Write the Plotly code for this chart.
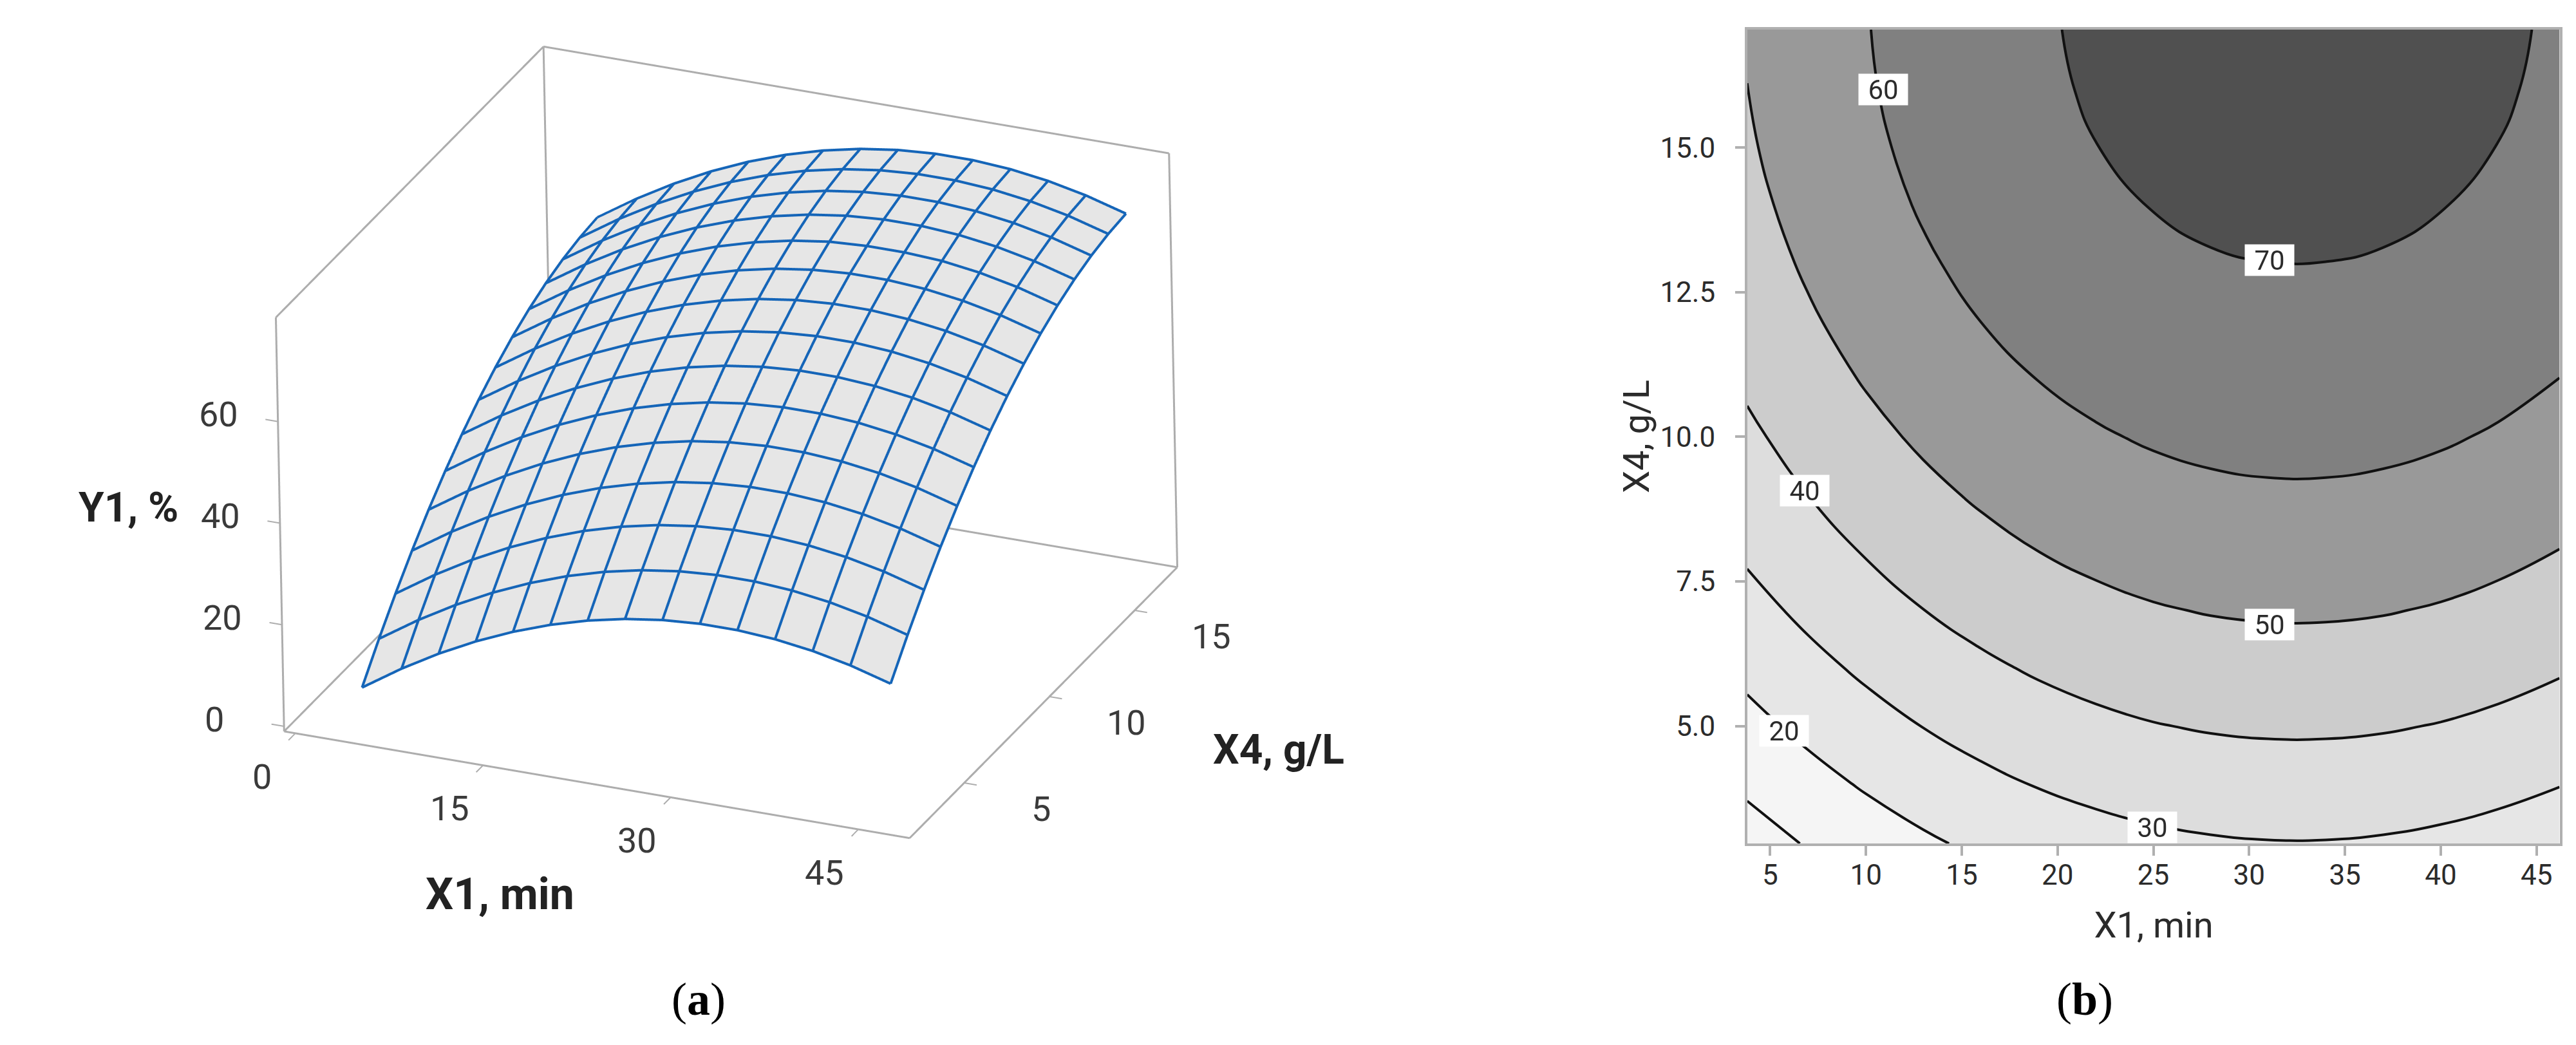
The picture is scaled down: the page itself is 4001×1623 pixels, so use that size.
import plotly.graph_objects as go

# ---- data ----
x1_values = [3.8, 7, 10, 13, 16, 19, 22, 25, 28, 31, 34, 37, 40, 43, 46.2]
x4_values = [2.97, 4, 5, 6, 7, 8, 9, 10, 11, 12, 13, 14, 15, 16, 17.04]
y1_values = [
    [5.65,10.71,14.92,18.60,21.75,24.38,26.48,28.06,29.11,29.63,29.63,29.11,28.06,26.48,24.22],
    [11.75,16.81,21.02,24.70,27.85,30.48,32.58,34.16,35.21,35.73,35.73,35.21,34.16,32.58,30.32],
    [17.24,22.30,26.51,30.19,33.34,35.97,38.07,39.65,40.70,41.22,41.22,40.70,39.65,38.07,35.81],
    [22.31,27.37,31.58,35.26,38.41,41.04,43.14,44.72,45.77,46.29,46.29,45.77,44.72,43.14,40.88],
    [26.97,32.03,36.24,39.92,43.07,45.70,47.80,49.38,50.43,50.95,50.95,50.43,49.38,47.80,45.54],
    [31.20,36.26,40.47,44.15,47.30,49.93,52.03,53.61,54.66,55.18,55.18,54.66,53.61,52.03,49.77],
    [35.02,40.08,44.29,47.97,51.12,53.75,55.85,57.43,58.48,59.00,59.00,58.48,57.43,55.85,53.59],
    [38.41,43.47,47.68,51.36,54.51,57.14,59.24,60.82,61.87,62.39,62.39,61.87,60.82,59.24,56.98],
    [41.38,46.44,50.65,54.33,57.48,60.11,62.21,63.79,64.84,65.36,65.36,64.84,63.79,62.21,59.95],
    [43.94,49.00,53.21,56.89,60.04,62.67,64.77,66.35,67.40,67.92,67.92,67.40,66.35,64.77,62.51],
    [46.07,51.13,55.34,59.02,62.17,64.80,66.90,68.48,69.53,69.95,69.95,69.53,68.48,66.90,64.64],
    [47.79,52.85,57.06,60.74,63.89,66.52,68.62,70.20,71.25,71.77,71.77,71.25,70.20,68.62,66.36],
    [49.08,54.14,58.35,62.03,65.18,67.81,69.91,71.49,72.54,73.06,73.06,72.54,71.49,69.91,67.65],
    [49.95,55.01,59.22,62.90,66.05,68.68,70.78,72.36,73.41,73.93,73.93,73.41,72.36,70.78,68.52],
    [50.41,55.47,59.68,63.36,66.51,69.14,71.24,72.82,73.87,74.39,74.39,73.87,72.82,71.24,68.98],
]
box_x = [-0.9, 49.1]
box_y = [1.8, 17.5]
box_z = [-1, 80.5]
x_range_3d = [-2.1, 50.3]
y_range_3d = [1.2, 18.1]
z_range_3d = [-2, 81.5]
x_ticks_3d = [0, 15, 30, 45]
y_ticks_3d = [5, 10, 15]
z_ticks_3d = [0, 20, 40, 60]
x_ticks_2d = [5, 10, 15, 20, 25, 30, 35, 40, 45]
y_ticks_2d = [5, 7.5, 10, 12.5, 15]
y_tick_text_2d = ["5.0", "7.5", "10.0", "12.5", "15.0"]
contour_label_text = ["20", "30", "40", "50", "60", "70"]
contour_label_x = [5.74, 24.95, 6.8, 31.05, 10.9, 31.05]
contour_label_y = [4.92, 3.25, 9.07, 6.76, 16.0, 13.05]

GREY = "#adadad"
BLUE = "#1565b8"
TEXT = "#2b2b2b"
FONT = "Roboto"

fig = go.Figure()

# ---- panel (a) ----
fig.add_trace(go.Surface(
    x=x1_values, y=x4_values, z=y1_values, showscale=False, hoverinfo="skip",
    colorscale=[[0, "#e6e6e6"], [1, "#e6e6e6"]],
    lighting=dict(ambient=1, diffuse=0, specular=0, fresnel=0, roughness=1),
))

# the wire mesh is nudged towards the camera along the line of sight so it is not half buried in the surface
nudge_x, nudge_y, nudge_z = 0.13, -0.10, 0.38
wire_x, wire_y, wire_z = [], [], []
for j, yv in enumerate(x4_values):
    wire_x += [v + nudge_x for v in x1_values] + [None]
    wire_y += [yv + nudge_y] * len(x1_values) + [None]
    wire_z += [v + nudge_z for v in y1_values[j]] + [None]
for i, xv in enumerate(x1_values):
    wire_x += [xv + nudge_x] * len(x4_values) + [None]
    wire_y += [v + nudge_y for v in x4_values] + [None]
    wire_z += [row[i] + nudge_z for row in y1_values] + [None]
fig.add_trace(go.Scatter3d(x=wire_x, y=wire_y, z=wire_z, mode="lines", hoverinfo="skip",
                           line=dict(color=BLUE, width=8), showlegend=False))

x0, x9 = box_x
y0, y9 = box_y
z0, z9 = box_z
edge_x = [x0,x0,None, x0,x0,None, x0,x9,None, x9,x9,None, x9,x0,None, x0,x0,None, x0,x9,None, x9,x9,None, x0,x0]
edge_y = [y0,y9,None, y9,y9,None, y9,y9,None, y9,y9,None, y9,y9,None, y0,y0,None, y0,y0,None, y0,y9,None, y0,y9]
edge_z = [z9,z9,None, z9,z0,None, z9,z9,None, z9,z0,None, z0,z0,None, z9,z0,None, z0,z0,None, z0,z0,None, z0,z0]
fig.add_trace(go.Scatter3d(x=edge_x, y=edge_y, z=edge_z, mode="lines", hoverinfo="skip",
                           line=dict(color=GREY, width=6), showlegend=False))

tick_x, tick_y, tick_z = [], [], []
for v in x_ticks_3d:
    tick_x += [v, v, None]; tick_y += [y0, y0 - 0.4, None]; tick_z += [z0, z0, None]
for v in y_ticks_3d:
    tick_x += [x9, x9 + 1.0, None]; tick_y += [v, v, None]; tick_z += [z0, z0, None]
for v in z_ticks_3d:
    tick_x += [x0, x0 - 1.0, None]; tick_y += [y0, y0, None]; tick_z += [v, v, None]
fig.add_trace(go.Scatter3d(x=tick_x, y=tick_y, z=tick_z, mode="lines", hoverinfo="skip",
                           line=dict(color=GREY, width=4), showlegend=False))


def axis3d(rng, ticks):
    return dict(range=rng, tickvals=ticks, ticks="", showticklabels=False, title=dict(text=""),
                showgrid=False, zeroline=False, showline=False, showbackground=False, showspikes=False)


tick_font = dict(family=FONT, size=54, color="#3a3a3a")
scene_notes = []
for v in x_ticks_3d:
    scene_notes.append(dict(x=v, y=y0, z=z0, text=str(v), showarrow=False, font=tick_font, xshift=-52, yshift=-67))
for v in y_ticks_3d:
    scene_notes.append(dict(x=x9, y=v, z=z0, text=str(v), showarrow=False, font=tick_font, xshift=120, yshift=-40))
for v in z_ticks_3d:
    scene_notes.append(dict(x=x0, y=y0, z=v, text=str(v), showarrow=False, font=tick_font, xanchor="left",
                            xshift=-125, yshift=11))

fig.update_layout(
    width=4001, height=1623, margin=dict(l=0, r=0, t=0, b=0),
    paper_bgcolor="white", plot_bgcolor="white", showlegend=False, hovermode=False,
    scene=dict(
        domain=dict(x=[0.0300, 0.5300], y=[0.1815, 0.9815]),
        xaxis=axis3d(x_range_3d, x_ticks_3d),
        yaxis=axis3d(y_range_3d, y_ticks_3d),
        zaxis=axis3d(z_range_3d, z_ticks_3d),
        aspectmode="manual", aspectratio=dict(x=1.71, y=1.735, z=1.125),
        camera=dict(
            projection=dict(type="orthographic"),
            center=dict(x=0, y=0, z=0),
            up=dict(x=-0.1565, y=0.4021, z=0.9022),
            eye=dict(x=2.194, y=-4.949, z=2.587),
        ),
        annotations=scene_notes,
    ),
)

# ---- panel (b) ----
fig.add_trace(go.Contour(
    x=x1_values, y=x4_values, z=y1_values, xaxis="x", yaxis="y", showscale=False, hoverinfo="skip",
    autocontour=False, contours=dict(start=10, end=70, size=10, coloring="fill", showlabels=False),
    zmin=0, zmax=80, zauto=False,
    line=dict(color="#111111", width=4, smoothing=1.3),
    colorscale=[
        [0, "#f5f5f5"], [0.25, "#f5f5f5"], [0.25, "#e6e6e6"], [0.375, "#e6e6e6"],
        [0.375, "#dddddd"], [0.5, "#dddddd"], [0.5, "#cccccc"], [0.625, "#cccccc"],
        [0.625, "#999999"], [0.75, "#999999"], [0.75, "#808080"], [0.875, "#808080"],
        [0.875, "#505050"], [1, "#505050"],
    ],
))
fig.update_xaxes(domain=[2706 / 4001, 3968 / 4001], range=[3.81, 46.22], tickvals=x_ticks_2d,
                 ticks="outside", ticklen=15, tickwidth=4, tickcolor="#b0b0b0", ticklabelstandoff=-8,
                 showgrid=False, zeroline=False, showline=True, linecolor="#b0b0b0", linewidth=4, mirror=True,
                 tickfont=dict(family=FONT, size=44, color=TEXT),
                 title=dict(text="X1, min", font=dict(family=FONT, size=56, color=TEXT), standoff=34))
fig.update_yaxes(domain=[1 - 1302 / 1623, 1 - 38 / 1623], range=[2.97, 17.04], tickvals=y_ticks_2d,
                 ticktext=y_tick_text_2d,
                 ticks="outside", ticklen=15, tickwidth=4, tickcolor="#b0b0b0", ticklabelstandoff=22,
                 showgrid=False, zeroline=False, showline=True, linecolor="#b0b0b0", linewidth=4, mirror=True,
                 tickfont=dict(family=FONT, size=44, color=TEXT),
                 title=dict(text="X4, g/L", font=dict(family=FONT, size=56, color=TEXT), standoff=0))

for t, lx, ly in zip(contour_label_text, contour_label_x, contour_label_y):
    fig.add_annotation(x=lx, y=ly, xref="x", yref="y", text=t, showarrow=False, bgcolor="white",
                       width=76, height=48, borderpad=0, font=dict(family=FONT, size=42, color=TEXT))

# ---- paper texts ----
title_font = dict(family=FONT, size=64, color="#222222")
paper_notes = [
    ("<b>Y1, %</b>", 75, 306, title_font), ("<b>X1, min</b>", 301, 541, dict(title_font, size=68)),
    ("<b>X4, g/L</b>", 775, 453, title_font),
    ("(<b>a</b>)", 422, 605, dict(family="Liberation Serif", size=72, color="black")),
    ("(<b>b</b>)", 1266, 605, dict(family="Liberation Serif", size=72, color="black")),
]
for t, sx, sy, f in paper_notes:
    fig.add_annotation(x=sx / 1568, y=1 - sy / 636, xref="paper", yref="paper", xanchor="center", yanchor="middle",
                       text=t, showarrow=False, font=f)

fig.write_html("out.html")
